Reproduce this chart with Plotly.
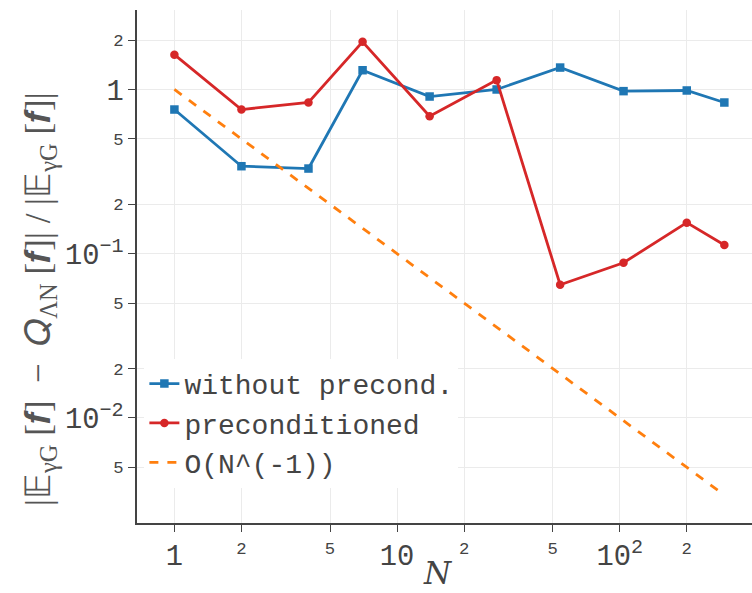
import plotly.graph_objects as go

N = [1, 2, 4, 7, 14, 28, 54, 104, 200, 295]
err_plain = [0.755, 0.341, 0.330, 1.31, 0.906, 1.0, 1.36, 0.977, 0.986, 0.833]
err_precond = [1.63, 0.755, 0.833, 1.95, 0.688, 1.14, 0.0647, 0.0881, 0.1545, 0.113]
ref_rate = [1.0 / n for n in N]

FONT = "Liberation Mono"
GRAY = "#444444"

fig = go.Figure()
fig.add_trace(go.Scatter(x=N, y=err_plain, mode="lines+markers", name="without precond.",
                         line=dict(color="#1f77b4", width=2.8),
                         marker=dict(symbol="square", size=8.5, color="#1f77b4")))
fig.add_trace(go.Scatter(x=N, y=err_precond, mode="lines+markers", name="preconditioned",
                         line=dict(color="#d62728", width=2.8),
                         marker=dict(symbol="circle", size=8.5, color="#d62728")))
fig.add_trace(go.Scatter(x=N, y=ref_rate, mode="lines", name="O(N^(-1))",
                         line=dict(color="#ff7f0e", width=2.8, dash="dash")))

axis_common = dict(type="log", dtick="D2", exponentformat="power",
                   showgrid=True, gridcolor="#ebebeb", gridwidth=1.4,
                   showline=True, linecolor=GRAY, linewidth=1.5,
                   ticks="outside", ticklen=7, tickcolor=GRAY, tickwidth=1.4,
                   tickfont=dict(family=FONT, size=23, color=GRAY),
                   zeroline=False)

fig.update_layout(
    width=752, height=593,
    margin=dict(l=137, r=0, t=10, b=70),
    paper_bgcolor="white", plot_bgcolor="white",
    font=dict(family=FONT, color=GRAY),
    xaxis=dict(range=[-0.168, 2.594], **axis_common),
    yaxis=dict(range=[-2.64, 0.484], **axis_common),
    showlegend=True,
    legend=dict(x=0.012, y=0.32, xanchor="left", yanchor="top",
                bgcolor="white", borderwidth=0, tracegroupgap=0,
                font=dict(family=FONT, size=28, color=GRAY)),
)

fig.add_annotation(xref="paper", yref="paper", x=(438 - 137) / 615, y=-0.097,
                   text="<i>N</i>", showarrow=False,
                   font=dict(family="DejaVu Serif", size=31, color=GRAY),
                   xanchor="center", yanchor="middle")

S = "\u00a0"
ytitle = ("|𝔼<sub>γG</sub>" + S + "[𝒇]" + S * 2 + "−" + S * 2 + "𝑄<sub>ΛN</sub>" + S + "[𝒇]|"
          + S + "/" + S + "|𝔼<sub>γG</sub>" + S + "[𝒇]|")
fig.add_annotation(xref="paper", yref="paper", x=(40 - 137) / 615, y=(523 - 299) / 513,
                   text=ytitle, showarrow=False, textangle=-90,
                   font=dict(family="Liberation Serif", size=35, color="#555555"),
                   xanchor="center", yanchor="middle")

fig.write_html("out.html")
